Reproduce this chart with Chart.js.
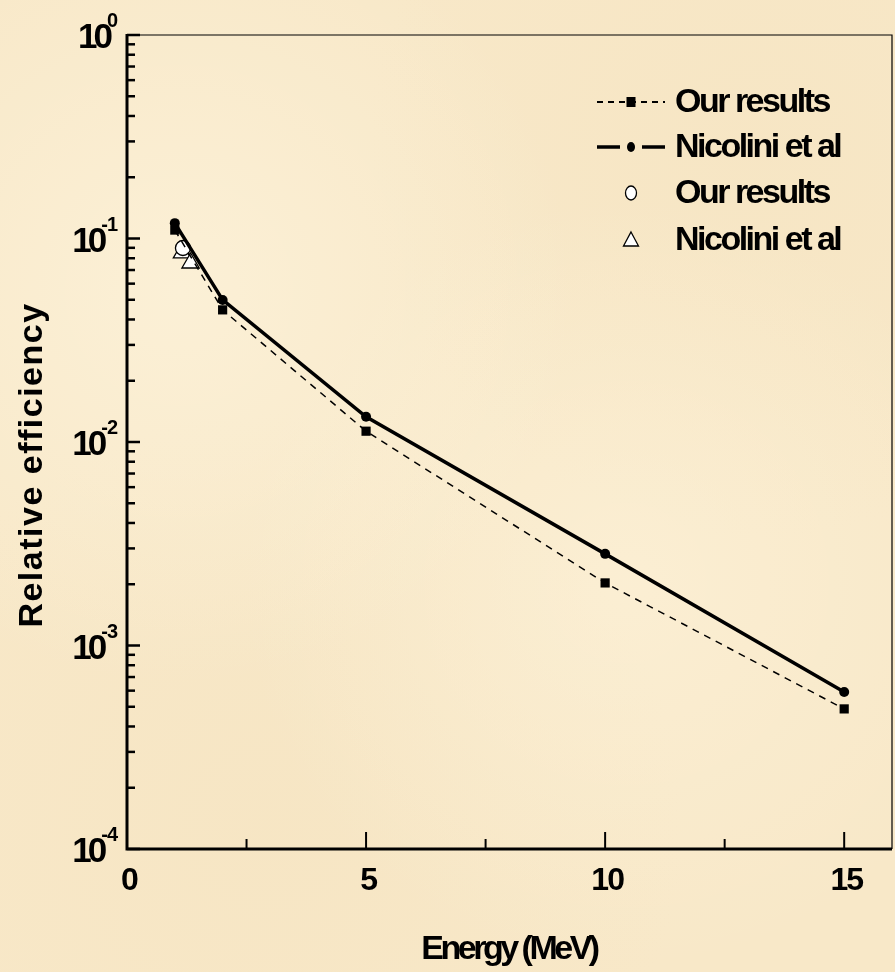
<!DOCTYPE html>
<html>
<head>
<meta charset="utf-8">
<script src="https://cdn.jsdelivr.net/npm/chart.js@4"></script>
<style>
  html, body { margin: 0; padding: 0; }
  body {
    width: 895px; height: 972px; overflow: hidden;
    background-color: #f8e8c8;
    background-image:
      radial-gradient(circle at 20% 30%, rgba(255,248,228,0.5), rgba(255,248,228,0) 40%),
      radial-gradient(circle at 70% 60%, rgba(255,246,224,0.45), rgba(255,246,224,0) 45%),
      radial-gradient(circle at 85% 15%, rgba(244,226,190,0.4), rgba(244,226,190,0) 35%),
      radial-gradient(circle at 30% 85%, rgba(244,226,190,0.4), rgba(244,226,190,0) 40%);
  }
  #wrap { position: absolute; left: 0; top: 0; width: 895px; height: 972px; }
</style>
</head>
<body>
<div id="wrap"><canvas id="myChart" width="895" height="972"></canvas></div>
<script>
// calculated curves (Energy in MeV, relative efficiency)
const energy = [1, 2, 5, 10, 15];
const ourCalc = [0.110, 0.0446, 0.0113, 0.00203, 0.000488];
const nicoliniCalc = [0.119, 0.0499, 0.0133, 0.00282, 0.000591];
// measured points
const ourExpEnergy = [1.17];
const ourExp = [0.0898];
const nicExpEnergy = [1.15, 1.33];
const nicExp = [0.0849, 0.0758];
// axis ticks
const xTicks = [0, 5, 10, 15];
const xMinorTicks = [2.5, 7.5, 12.5];
const yExponents = [0, -1, -2, -3, -4];
const legendLabels = ['Our results', 'Nicolini et al', 'Our results', 'Nicolini et al'];

function pts(xs, ys) {
    return xs.map(function (x, i) { return { x: x, y: ys[i] }; });
}

const FONT = '"Liberation Sans", Arial, sans-serif';

const axesPlugin = {
    id: 'axesPlugin',
    afterDraw: function (chart) {
        const ctx = chart.ctx;
        const xs = chart.scales.x, ys = chart.scales.y;
        const a = chart.chartArea;
        ctx.save();
        ctx.strokeStyle = '#000';
        ctx.fillStyle = '#000';

        // frame: thin top/right, thick left/bottom
        ctx.lineWidth = 1.2;
        ctx.beginPath();
        ctx.moveTo(a.left, a.top); ctx.lineTo(a.right, a.top); ctx.lineTo(a.right, a.bottom);
        ctx.stroke();
        ctx.lineWidth = 3;
        ctx.beginPath();
        ctx.moveTo(a.left, a.top - 1); ctx.lineTo(a.left, a.bottom); ctx.lineTo(a.right, a.bottom);
        ctx.stroke();

        // y ticks (inward), major + minor
        ctx.lineWidth = 2.5;
        yExponents.forEach(function (e) {
            const y = ys.getPixelForValue(Math.pow(10, e));
            ctx.beginPath(); ctx.moveTo(a.left, y); ctx.lineTo(a.left + 13, y); ctx.stroke();
            if (e < 0) {
                for (let m = 2; m <= 9; m++) {
                    const ym = ys.getPixelForValue(m * Math.pow(10, e));
                    ctx.beginPath(); ctx.moveTo(a.left, ym); ctx.lineTo(a.left + 8, ym); ctx.stroke();
                }
            }
        });

        // x ticks (inward)
        ctx.lineWidth = 2;
        xTicks.forEach(function (v) {
            const x = xs.getPixelForValue(v);
            ctx.beginPath(); ctx.moveTo(x, a.bottom); ctx.lineTo(x, a.bottom - 17); ctx.stroke();
        });
        xMinorTicks.forEach(function (v) {
            const x = xs.getPixelForValue(v);
            ctx.beginPath(); ctx.moveTo(x, a.bottom); ctx.lineTo(x, a.bottom - 10); ctx.stroke();
        });

        // x tick labels
        ctx.font = 'bold 32px ' + FONT;
        ctx.letterSpacing = '-2px';
        ctx.textAlign = 'center';
        ctx.textBaseline = 'middle';
        xTicks.forEach(function (v) {
            ctx.fillText(String(v), xs.getPixelForValue(v) + 2, a.bottom + 32);
        });

        // y tick labels 10^e
        const labelRight = 117;
        yExponents.forEach(function (e) {
            const y = ys.getPixelForValue(Math.pow(10, e));
            ctx.textAlign = 'right';
            ctx.textBaseline = 'alphabetic';
            ctx.font = 'bold 20px ' + FONT;
            ctx.letterSpacing = '-1px';
            const sup = String(e);
            const sw = ctx.measureText(sup).width;
            ctx.fillText(sup, labelRight, y - 8);
            ctx.font = 'bold 35px ' + FONT;
            ctx.letterSpacing = '-4px';
            ctx.fillText('10', labelRight - sw + 2, y + 13);
        });

        // axis titles
        ctx.letterSpacing = '-3.5px';
        ctx.font = 'bold 34px ' + FONT;
        ctx.textAlign = 'center';
        ctx.textBaseline = 'middle';
        ctx.fillText('Energy (MeV)', 509, 950);

        ctx.save();
        ctx.letterSpacing = '1.5px';
        ctx.font = 'bold 34px ' + FONT;
        ctx.translate(33, 465);
        ctx.rotate(-Math.PI / 2);
        ctx.fillText('Relative efficiency', 0, 0);
        ctx.restore();

        // legend
        const rows = [102, 147, 193, 240];
        const sx = 631, tx = 675;
        ctx.letterSpacing = '-2.5px';
        ctx.font = 'bold 34px ' + FONT;
        ctx.textAlign = 'left';
        ctx.textBaseline = 'middle';
        legendLabels.forEach(function (t, i) {
            ctx.fillText(t, tx, rows[i] + 1);
        });
        ctx.letterSpacing = '0px';
        // row 1: dashed + square
        ctx.lineWidth = 2;
        ctx.setLineDash([6, 5]);
        ctx.beginPath(); ctx.moveTo(597, rows[0]); ctx.lineTo(665, rows[0]); ctx.stroke();
        ctx.setLineDash([]);
        ctx.fillRect(sx - 4.5, rows[0] - 5, 9, 10);
        // row 2: solid + dot
        ctx.lineWidth = 3.5;
        ctx.beginPath(); ctx.moveTo(597, rows[1]); ctx.lineTo(620, rows[1]);
        ctx.moveTo(642, rows[1]); ctx.lineTo(665, rows[1]); ctx.stroke();
        ctx.beginPath(); ctx.ellipse(sx, rows[1], 4, 5, 0, 0, Math.PI * 2); ctx.fill();
        // row 3: open circle
        ctx.lineWidth = 1.3;
        ctx.fillStyle = '#fff';
        ctx.beginPath(); ctx.ellipse(sx, rows[2], 5.5, 7, 0, 0, Math.PI * 2); ctx.fill(); ctx.stroke();
        // row 4: open triangle
        ctx.beginPath();
        ctx.moveTo(sx, rows[3] - 8); ctx.lineTo(sx + 7.5, rows[3] + 6); ctx.lineTo(sx - 7.5, rows[3] + 6);
        ctx.closePath(); ctx.fill(); ctx.stroke();
        ctx.restore();
    }
};

new Chart(document.getElementById('myChart'), {
    type: 'scatter',
    data: {
        datasets: [
            {
                label: 'Our results',
                data: pts(energy, ourCalc),
                showLine: true,
                borderColor: '#000',
                borderWidth: 1.5,
                borderDash: [7, 6],
                pointStyle: 'rect',
                pointRadius: 6.5,
                pointBackgroundColor: '#000',
                pointBorderWidth: 0
            },
            {
                label: 'Nicolini et al',
                data: pts(energy, nicoliniCalc),
                showLine: true,
                borderColor: '#000',
                borderWidth: 3.5,
                pointStyle: 'circle',
                pointRadius: 5,
                pointBackgroundColor: '#000',
                pointBorderWidth: 0
            },
            {
                label: 'Our results (exp)',
                data: pts(ourExpEnergy, ourExp),
                showLine: false,
                pointStyle: 'circle',
                pointRadius: 7.5,
                pointBackgroundColor: '#fff',
                pointBorderColor: '#000',
                pointBorderWidth: 1.3
            },
            {
                label: 'Nicolini et al (exp)',
                data: pts(nicExpEnergy, nicExp),
                showLine: false,
                pointStyle: 'triangle',
                pointRadius: 10,
                pointBackgroundColor: '#fff',
                pointBorderColor: '#000',
                pointBorderWidth: 1.3
            }
        ]
    },
    options: {
        responsive: false,
        animation: false,
        layout: { autoPadding: false, padding: { left: 127, right: 3, top: 35, bottom: 123 } },
        plugins: { legend: { display: false }, tooltip: { enabled: false } },
        scales: {
            x: { type: 'linear', min: 0, max: 16, display: false },
            y: { type: 'logarithmic', min: 1e-4, max: 1, display: false }
        }
    },
    plugins: [axesPlugin]
});
</script>
</body>
</html>
